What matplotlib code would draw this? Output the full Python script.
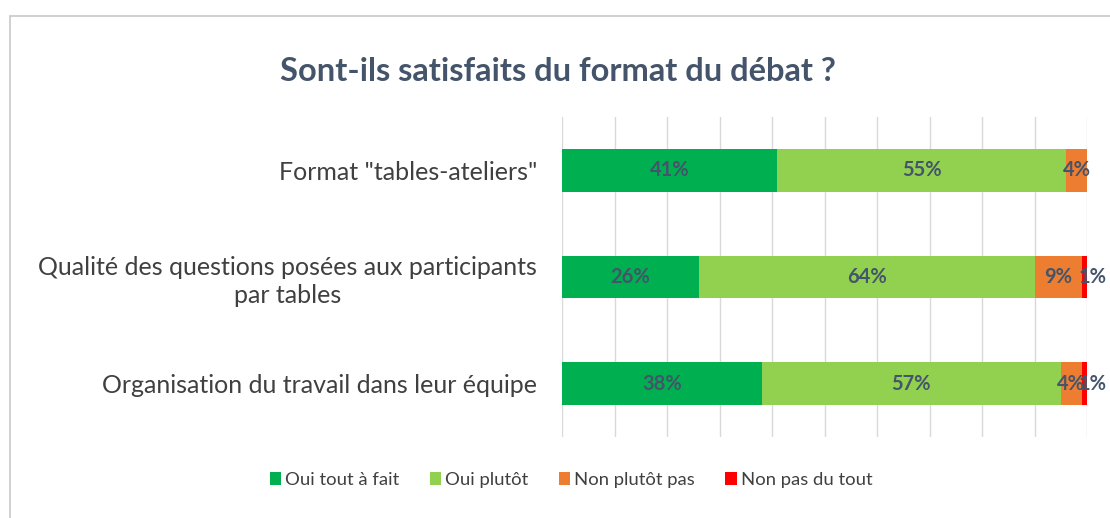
import matplotlib
matplotlib.use("Agg")
import matplotlib.pyplot as plt
from matplotlib.patches import Rectangle
import numpy as np

categories = ['Format "tables-ateliers"',
              'Qualité des questions posées aux participants\npar tables',
              'Organisation du travail dans leur équipe']
series_names = ["Oui tout à fait", "Oui plutôt", "Non plutôt pas", "Non pas du tout"]
oui_tout = [41, 26, 38]
oui_plutot = [55, 64, 57]
non_plutot = [4, 9, 4]
non_pas = [0, 1, 1]
series = [oui_tout, oui_plutot, non_plutot, non_pas]
colors = ["#00B050", "#92D050", "#ED7D31", "#FF0000"]

plt.rcParams['font.family'] = ['Lato', 'DejaVu Sans']
label_col = "#404040"
title_col = "#44546A"

fig = plt.figure(figsize=(11.1, 5.18), dpi=100)
fig.patch.set_facecolor("white")

# chart frame
fig.add_artist(Rectangle((10/1110, -0.1), 1.2, 1 - 16/518 + 0.1, transform=fig.transFigure,
                         fill=False, edgecolor="#C8C8C8", linewidth=1.2))

ax = fig.add_axes([562/1110, 1 - 437/518, 525/1110, 320/518])
y = np.arange(len(categories))
left = np.zeros(len(categories))
n = len(series)
for k, (name, vals, c) in enumerate(zip(series_names, series, colors)):
    vals = np.array(vals, dtype=float)
    ax.barh(y, vals, left=left, height=0.4, color=c, label=name, zorder=3)
    for yi, (l, v) in enumerate(zip(left, vals)):
        if v > 0:
            xc = l + v / 2
            if k == n - 1:
                xc += 1.6
            ax.text(xc, yi, f"{int(v)}%", ha="center", va="center",
                    fontsize=14.5, fontweight="bold", color="#44546A", zorder=4)
    left += vals

ax.set_xlim(0, 100)
ax.set_ylim(2.5, -0.5)
ax.set_xticks(np.arange(0, 101, 10))
ax.xaxis.grid(True, color="#D9D9D9", linewidth=1, zorder=0)
ax.tick_params(axis="x", length=0, labelbottom=False)
ax.tick_params(axis="y", length=0, pad=18)
ax.set_yticks(y)
ax.set_yticklabels(categories, fontsize=18, color=label_col, linespacing=1.25)
for lab in ax.get_yticklabels():
    lab.set_multialignment("center")
for s in ax.spines.values():
    s.set_visible(False)

fig.text(558/1110, 1 - 72/518, "Sont-ils satisfaits du format du débat ?", ha="center", va="center",
         fontsize=23.5, fontweight="bold", color=title_col)

handles, labels = ax.get_legend_handles_labels()
fig.legend(handles, labels, loc="center", bbox_to_anchor=(571/1110, 1 - 480/518), ncol=4,
           frameon=False, fontsize=13.3, handlelength=0.63, handleheight=0.63,
           columnspacing=1.65, handletextpad=0.2, labelcolor=label_col)

fig.savefig("out.png", dpi=100, facecolor="white")
